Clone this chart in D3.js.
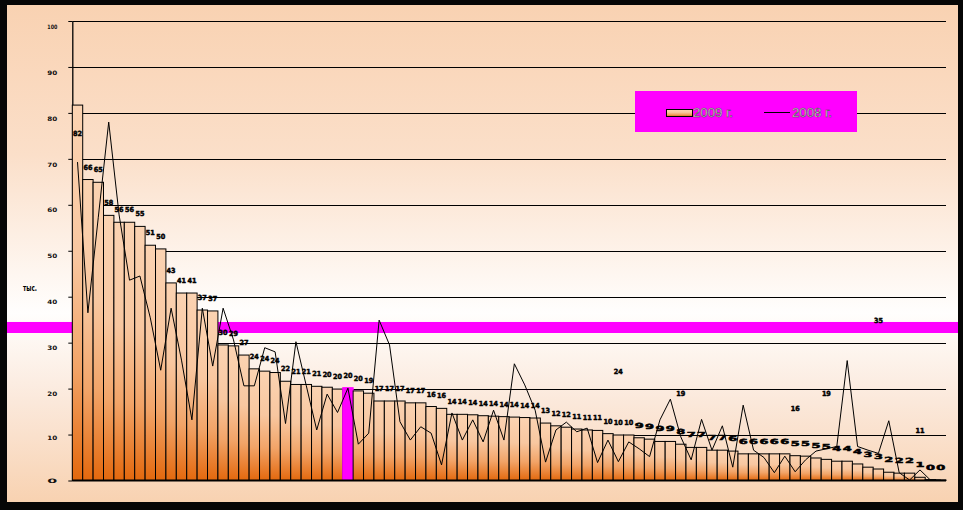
<!DOCTYPE html>
<html>
<head>
<meta charset="utf-8">
<script src="https://cdn.jsdelivr.net/npm/d3@7/dist/d3.min.js"></script>
<style>
html,body{margin:0;padding:0;background:#000;}
svg{display:block;}
</style>
</head>
<body>
<svg id="chart" width="963" height="510"></svg>
<script>
// ---------- data ----------
const categories = d3.range(1, 85).map(String);
const yTicks = [0, 10, 20, 30, 40, 50, 60, 70, 80, 90, 100];
const series2009 = [
  81.7, 65.5, 64.9, 57.7, 56.2, 56.2, 55.3, 51.2, 50.4, 43.0,
  40.8, 40.8, 37.1, 36.9, 29.5, 29.3, 27.3, 24.3, 23.8, 23.5,
  21.6, 20.9, 20.9, 20.5, 20.3, 19.9, 20.2, 19.5, 19.0, 17.3,
  17.3, 17.3, 16.9, 16.9, 16.1, 15.7, 14.4, 14.4, 14.3, 14.1,
  14.0, 13.9, 13.8, 13.7, 13.6, 12.5, 11.9, 11.6, 11.2, 11.0,
  10.9, 10.2, 9.9, 9.9, 9.3, 9.0, 8.5, 8.5, 7.9, 7.2,
  7.2, 6.6, 6.6, 6.4, 5.8, 5.8, 5.8, 5.8, 5.8, 5.4,
  5.3, 4.9, 4.6, 4.2, 4.2, 3.6, 2.9, 2.5, 1.8, 1.6,
  1.6, 0.7, 0.2, 0.1
];
const series2008 = [
  69.3, 36.5, 57.3, 78.0, 57.8, 43.6, 44.5, 35.4, 24.0, 37.5,
  26.2, 13.2, 37.5, 24.9, 37.5, 30.6, 20.6, 20.6, 28.9, 28.0,
  12.4, 30.2, 20.6, 11.0, 18.8, 14.8, 20.1, 7.9, 10.3, 34.9,
  29.5, 12.8, 8.8, 11.7, 10.3, 3.4, 14.7, 8.8, 13.2, 8.4,
  15.3, 8.8, 25.4, 20.8, 15.3, 4.0, 11.0, 12.7, 10.6, 11.4,
  3.9, 8.8, 4.1, 8.4, 6.9, 5.2, 13.2, 17.7, 9.5, 4.5,
  13.3, 6.6, 11.9, 2.9, 16.4, 6.6, 5.0, 1.7, 5.3, 1.9,
  4.5, 6.4, 6.9, 7.4, 26.1, 7.4, 6.6, 5.9, 13.0, 1.7,
  0.1, 2.3, 0.1, 0.1
];
const highlightIndex = [26];
const extraLabelIndex = [52, 58, 69, 72, 77, 81];
const extraLabelValues = [23.8, 19.0, 15.8, 19.0, 34.9, 11.0];
const legendLabels = ["2009 г.", "2008 г."];
const axisTitle = "тыс.";

// ---------- layout ----------
const svg = d3.select("#chart");
const W = 963, H = 510;
const frame = {x: 7, y: 5, w: 951, h: 497};
const plot = {left: 72.3, right: 946, top: 21, bottom: 480.5};

const x = d3.scaleBand().domain(categories).range([plot.left, plot.right]).padding(0);
const y = d3.scaleLinear().domain([0, 100]).range([plot.bottom, plot.top]);

const defs = svg.append("defs");
const bg = defs.append("linearGradient").attr("id", "bg").attr("x1", 0).attr("y1", 0).attr("x2", 0).attr("y2", 1);
[[0, "#f9d2b2"], [0.3, "#fbdfc9"], [0.62, "#fffefd"], [0.8, "#fbe8da"], [1, "#f8d2b1"]]
  .forEach(([o, c]) => bg.append("stop").attr("offset", o).attr("stop-color", c));
const bar = defs.append("linearGradient").attr("id", "bar").attr("x1", 0).attr("y1", 0).attr("x2", 0).attr("y2", 1);
[[0, "#fbd3b2"], [0.4, "#f8c7a0"], [0.7, "#f2a468"], [1, "#e3680d"]]
  .forEach(([o, c]) => bar.append("stop").attr("offset", o).attr("stop-color", c));

// frame
svg.append("rect").attr("width", W).attr("height", H).attr("fill", "#060606");
svg.append("rect").attr("x", frame.x).attr("y", frame.y).attr("width", frame.w).attr("height", frame.h).attr("fill", "url(#bg)");

// magenta band (behind marks)
svg.append("rect")
  .attr("x", frame.x).attr("width", frame.w)
  .attr("y", y(34.5)).attr("height", y(32.1) - y(34.5))
  .attr("fill", "#ff00ff");

// gridlines
svg.append("g").selectAll("line").data(yTicks.filter(t => t > 0)).join("line")
  .attr("x1", plot.left).attr("x2", plot.right)
  .attr("y1", d => Math.round(y(d)) + 0.5).attr("y2", d => Math.round(y(d)) + 0.5)
  .attr("stroke", "#000").attr("stroke-width", 1);

// y axis
const yAxis = d3.axisLeft(y).tickValues(yTicks).tickSize(4).tickSizeOuter(0).tickFormat(d3.format("d"));
const gy = svg.append("g").attr("transform", `translate(${plot.left},0)`).call(yAxis);
gy.select(".domain").attr("stroke", "#000").attr("stroke-width", 1.3);
gy.selectAll(".tick line").attr("stroke", "#000");
gy.selectAll(".tick text")
  .attr("x", -15).attr("text-anchor", "end")
  .attr("dy", d => d === 0 ? "0.35em" : d === 10 ? "0.75em" : "1.2em")
  .attr("font-family", "DejaVu Sans, sans-serif")
  .attr("font-weight", "bold").attr("font-size", 6)
  .attr("textLength", 10).attr("lengthAdjust", "spacingAndGlyphs")
  .attr("fill", "#111");

svg.append("text").attr("x", 30).attr("y", 291).attr("text-anchor", "middle")
  .attr("font-family", "DejaVu Sans, sans-serif").attr("font-weight", "bold").attr("font-size", 9)
  .attr("textLength", 14).attr("lengthAdjust", "spacingAndGlyphs")
  .attr("fill", "#000").text(axisTitle);

// bars
svg.append("g").selectAll("rect").data(series2009).join("rect")
  .attr("x", (d, i) => x(categories[i]))
  .attr("y", d => y(d))
  .attr("width", x.bandwidth())
  .attr("height", d => y(0) - y(d))
  .attr("fill", (d, i) => highlightIndex.includes(i) ? "#ff00ff" : "url(#bar)")
  .attr("stroke", (d, i) => highlightIndex.includes(i) ? "#ff00ff" : "#000")
  .attr("stroke-width", 1);

// baseline
svg.append("line").attr("x1", plot.left).attr("x2", plot.right)
  .attr("y1", y(0)).attr("y2", y(0)).attr("stroke", "#000").attr("stroke-width", 2);

// 2008 line
const line = d3.line().x((d, i) => x(categories[i]) + x.bandwidth() / 2).y(d => y(d));
svg.append("path").datum(series2008).attr("d", line)
  .attr("fill", "none").attr("stroke", "#000").attr("stroke-width", 1);

// data labels
const fmt = d3.format(".0f");
function labelText(sel) {
  sel.attr("text-anchor", "middle")
    .attr("font-family", "DejaVu Sans, sans-serif").attr("font-weight", "bold")
    .attr("font-size", 7).attr("textLength", 9).attr("lengthAdjust", "spacingAndGlyphs")
    .attr("fill", "#000").attr("stroke", "#000").attr("stroke-width", 0.5);
}
svg.append("g").selectAll("text").data(series2009).join("text")
  .attr("x", (d, i) => x(categories[i]) + x.bandwidth() / 2)
  .attr("y", (d, i) => i === 0 ? y(d) + 31 : y(d) - 10)
  .call(labelText).text(d => fmt(d));
svg.append("g").selectAll("text").data(extraLabelValues).join("text")
  .attr("x", (d, i) => x(categories[extraLabelIndex[i]]) + x.bandwidth() / 2)
  .attr("y", d => y(d) + 3)
  .call(labelText).text(d => fmt(d));

// legend
const lg = svg.append("g");
lg.append("rect").attr("x", 635).attr("y", 91).attr("width", 222).attr("height", 41).attr("fill", "#ff00ff");
lg.append("rect").attr("x", 666.5).attr("y", 109.5).attr("width", 26).attr("height", 7)
  .attr("fill", "url(#bar)").attr("stroke", "#000").attr("stroke-width", 1);
lg.append("line").attr("x1", 764).attr("x2", 790).attr("y1", 112.5).attr("y2", 112.5).attr("stroke", "#000");
[[693, legendLabels[0]], [792, legendLabels[1]]].forEach(([lx, t]) => {
  lg.append("text").attr("x", lx).attr("y", 117)
    .attr("font-family", "Liberation Sans, sans-serif").attr("font-size", 13)
    .attr("textLength", 40).attr("lengthAdjust", "spacingAndGlyphs")
    .attr("fill", "#fff").attr("stroke", "#444").attr("stroke-width", 0.5)
    .text(t);
});
</script>
</body>
</html>
